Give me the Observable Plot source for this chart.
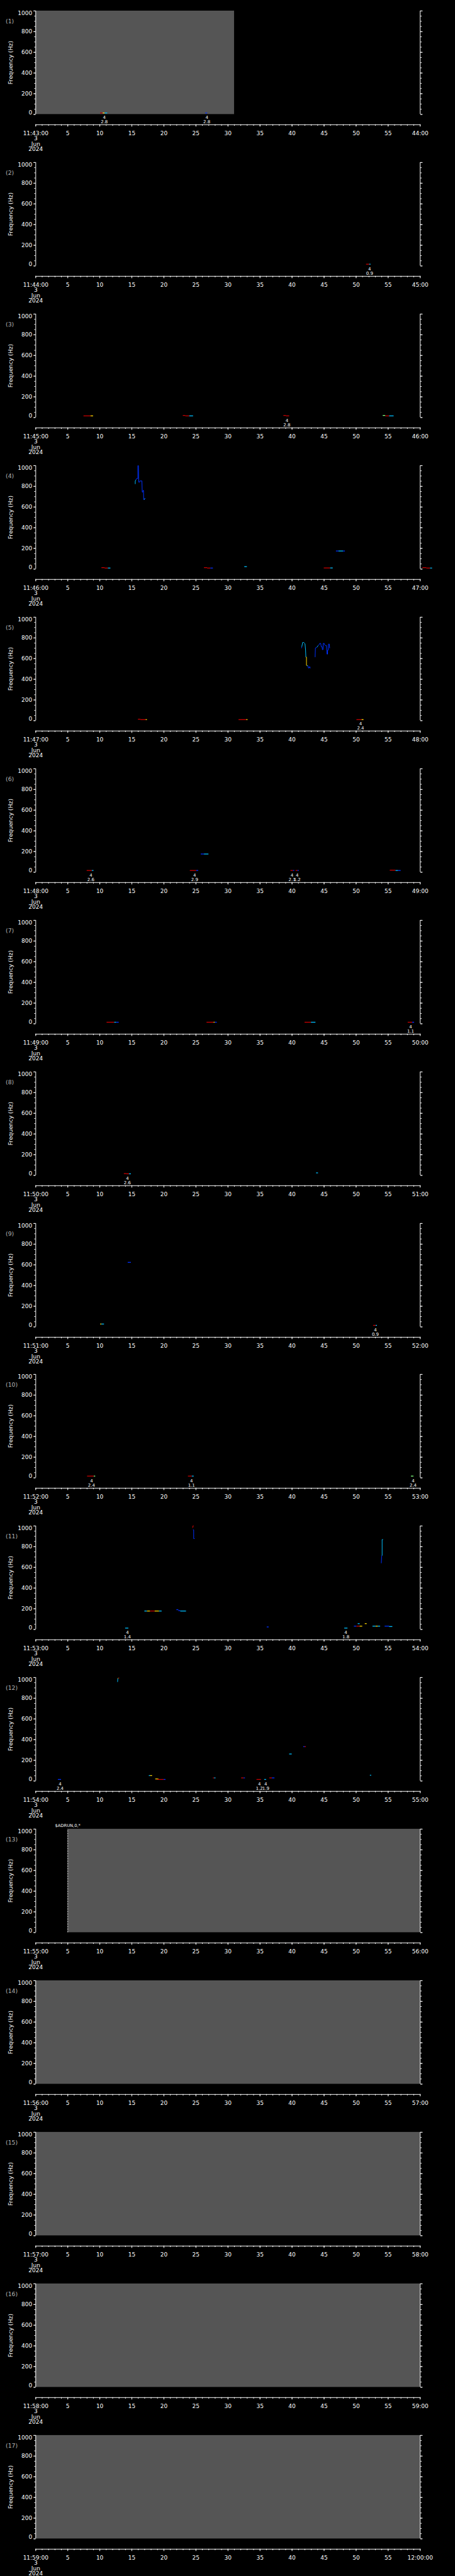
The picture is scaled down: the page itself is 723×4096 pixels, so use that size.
<!DOCTYPE html>
<html>
<head>
<meta charset="utf-8">
<script src="https://cdn.jsdelivr.net/npm/d3@7"></script>
<script src="https://cdn.jsdelivr.net/npm/@observablehq/plot@0.6"></script>
<style>
html, body { margin: 0; padding: 0; background: #000; }
#chart svg { display: block; }
</style>
</head>
<body>
<div id="chart"></div>
<script>
// ---------- data ----------
const panelStarts = ["11:43","11:44","11:45","11:46","11:47","11:48","11:49","11:50","11:51",
                     "11:52","11:53","11:54","11:55","11:56","11:57","11:58","11:59"];
const endLabels = ["44:00","45:00","46:00","47:00","48:00","49:00","50:00","51:00","52:00",
                   "53:00","54:00","55:00","56:00","57:00","58:00","59:00","12:00:00"];
const dateLines = ["3", "Jun", "2024"];
const yLabel = "Frequency (Hz)";
const xDomain = [0, 60];
const freqDomain = [0, 1000];
const timeTicks = [0, 5, 10, 15, 20, 25, 30, 35, 40, 45, 50, 55, 60];
const timeMinorTicks = d3.range(0, 61, 1);
const freqTicks = [0, 200, 400, 600, 800, 1000];
const freqMinorTicks = d3.range(0, 1001, 50);

// colour classes of the detections (jet-like)
const colorKeys = ["r", "y", "g", "c", "b"];
const colorHex = ["#c80000", "#ffd800", "#80ff80", "#00c0ff", "#0030ff"];

// no-data (grey) blocks: [panel, t0, t1]
const gaps = [[1, 0, 31], [13, 5, 60], [14, 0, 60], [15, 0, 60], [16, 0, 60], [17, 0, 60]];

// text markers: [panel, t, text]
const markers = [[13, 5, "$ADRUN,0,*"]];

// short detections: [panel, t0, t1, freq, colour]
const segments = [
 [1,10.1,10.5,14,"r"],[1,10.5,10.8,14,"y"],[1,10.8,11.2,14,"c"],[1,26.5,26.8,14,"b"],
 [2,51.6,52.1,17,"r"],[2,52.1,52.3,17,"c"],
 [3,7.5,8.6,16,"r"],[3,8.6,9.0,16,"y"],
 [3,23.0,23.4,20,"r"],[3,23.4,24.0,16,"r"],[3,24.0,24.6,16,"c"],
 [3,38.7,39.1,20,"r"],[3,39.1,39.6,16,"r"],
 [3,54.2,54.6,20,"g"],[3,54.6,55.2,16,"r"],[3,55.2,55.9,16,"c"],
 [4,10.3,10.8,14,"r"],[4,10.8,11.3,10,"r"],[4,11.3,11.7,10,"c"],
 [4,26.3,26.8,14,"r"],[4,26.8,27.3,10,"r"],[4,27.3,27.7,10,"b"],
 [4,32.6,33.0,24,"c"],
 [4,45.0,46.0,11,"r"],[4,46.0,46.4,11,"c"],
 [4,46.9,47.3,175,"b"],[4,47.3,48.0,175,"c"],[4,48.0,48.3,175,"b"],
 [4,60.4,61.0,14,"r"],[4,61.0,61.6,10,"r"],[4,61.6,61.9,10,"c"],
 [5,16.0,16.4,14,"r"],[5,16.4,17.2,10,"r"],[5,17.2,17.4,10,"y"],
 [5,31.7,32.9,10,"r"],[5,32.9,33.1,10,"y"],
 [5,50.1,50.9,10,"r"],[5,50.9,51.2,10,"y"],
 [6,8.0,8.8,17,"r"],[6,8.8,9.06,17,"c"],
 [6,24.1,25.1,17,"r"],[6,25.1,25.4,17,"b"],
 [6,25.8,26.3,176,"b"],[6,26.3,27.0,176,"c"],
 [6,39.8,40.2,17,"r"],[6,40.2,40.4,17,"b"],[6,40.6,40.9,17,"r"],[6,40.9,41.1,17,"b"],
 [6,55.3,56.2,20,"r"],[6,56.2,56.6,17,"c"],[6,56.6,57.0,17,"b"],
 [7,11.1,12.3,15,"r"],[7,12.3,12.6,15,"c"],[7,12.6,13.0,15,"b"],
 [7,26.7,27.8,15,"r"],[7,27.8,28.0,15,"y"],[7,28.0,28.3,15,"b"],
 [7,42.0,43.0,15,"r"],[7,43.0,43.7,15,"c"],
 [7,58.1,58.8,15,"r"],[7,58.8,59.1,15,"b"],
 [8,13.8,14.2,17,"r"],[8,14.2,14.6,15,"r"],[8,14.6,14.9,15,"c"],
 [8,43.8,44.1,24,"c"],
 [9,10.1,10.3,28,"y"],[9,10.3,10.7,28,"c"],
 [9,14.4,14.9,624,"b"],
 [9,52.7,53.1,15,"r"],[9,53.1,53.3,15,"c"],
 [10,8.06,9.1,17,"r"],[10,9.1,9.33,17,"g"],
 [10,23.8,24.4,17,"r"],[10,24.4,24.7,17,"c"],
 [10,58.6,59.0,17,"g"],
 [11,14.0,14.5,13,"c"],
 [11,17.0,17.4,178,"c"],[11,17.4,17.9,178,"y"],[11,17.9,18.6,178,"r"],[11,18.6,19.3,178,"y"],[11,19.3,19.7,178,"c"],
 [11,22.0,22.3,191,"b"],[11,22.3,22.6,182,"b"],[11,22.6,23.5,178,"c"],
 [11,36.1,36.4,24,"b"],
 [11,48.2,48.7,13,"c"],
 [11,49.7,50.1,32,"b"],[11,50.1,50.6,32,"r"],[11,50.6,51.0,32,"y"],
 [11,50.3,50.6,56,"c"],[11,51.4,51.7,56,"y"],
 [11,52.6,53.1,32,"c"],[11,53.1,53.4,32,"y"],[11,53.4,53.8,32,"c"],
 [11,54.5,55.2,32,"b"],[11,55.2,55.7,28,"c"],
 [12,3.5,4.0,15,"b"],
 [12,17.7,17.9,52,"c"],[12,17.9,18.2,52,"y"],
 [12,18.7,19.2,20,"y"],
 [12,19.0,20.0,15,"r"],[12,20.0,20.3,15,"b"],
 [12,27.7,27.9,30,"r"],[12,27.9,28.1,30,"c"],
 [12,32.1,32.5,30,"r"],[12,32.5,32.7,30,"b"],
 [12,34.5,35.2,15,"r"],
 [12,35.7,36.0,15,"c"],
 [12,36.5,36.9,30,"r"],[12,36.9,37.3,30,"b"],
 [12,39.6,40.0,261,"c"],
 [12,41.8,42.0,332,"b"],[12,42.0,42.2,332,"r"],
 [12,52.2,52.4,56,"c"]
];

// frequency-tracked contours: [panel, trace id, t, freq, colour]
const traces = [
 [4,"a",15.53,822,"b"],[4,"a",15.53,850,"c"],[4,"a",15.62,862,"c"],[4,"a",15.76,876,"b"],[4,"a",15.94,876,"b"],
 [4,"a",15.94,1000,"b"],[4,"a",16.03,1000,"b"],[4,"a",16.07,840,"b"],[4,"a",16.2,840,"b"],[4,"a",16.26,852,"b"],
 [4,"a",16.57,852,"b"],[4,"a",16.62,744,"b"],[4,"a",16.7,744,"b"],[4,"a",16.75,761,"b"],[4,"a",16.82,761,"b"],
 [4,"a",16.84,672,"b"],[4,"a",16.95,672,"b"],[4,"a",17.0,682,"c"],[4,"a",17.12,682,"b"],
 [5,"a",41.48,700,"b"],[5,"a",41.52,714,"b"],[5,"a",41.66,756,"c"],[5,"a",41.79,756,"c"],[5,"a",41.93,750,"c"],
 [5,"a",42.02,743,"c"],[5,"a",42.11,686,"c"],[5,"a",42.16,614,"c"],[5,"a",42.25,614,"y"],[5,"a",42.25,535,"y"],
 [5,"a",42.34,532,"y"],[5,"a",42.47,531,"c"],[5,"a",42.56,509,"b"],[5,"a",42.65,509,"b"],[5,"a",42.7,521,"b"],
 [5,"a",42.78,521,"b"],[5,"a",42.84,506,"b"],
 [5,"b",43.60,614,"b"],[5,"b",43.65,703,"b"],[5,"b",43.83,707,"b"],[5,"b",43.92,712,"b"],[5,"b",44.06,726,"c"],
 [5,"b",44.19,732,"b"],[5,"b",44.33,747,"b"],[5,"b",44.47,747,"b"],[5,"b",44.56,714,"b"],[5,"b",44.69,714,"b"],
 [5,"b",44.74,686,"b"],[5,"b",44.83,686,"b"],[5,"b",44.87,747,"b"],[5,"b",45.01,747,"b"],[5,"b",45.10,732,"b"],
 [5,"b",45.23,726,"b"],[5,"b",45.37,726,"b"],[5,"b",45.46,643,"b"],[5,"b",45.55,643,"b"],[5,"b",45.55,681,"b"],
 [5,"b",45.64,681,"b"],[5,"b",45.69,740,"b"],[5,"b",45.82,740,"b"],[5,"b",45.87,700,"b"],
 [11,"a",24.50,981,"r"],[11,"a",24.50,1000,"r"],[11,"a",24.68,1000,"r"],
 [11,"b",24.54,963,"b"],[11,"b",24.65,963,"b"],[11,"b",24.65,878,"b"],[11,"b",24.80,878,"b"],
 [11,"c",53.93,640,"b"],[11,"c",53.98,700,"b"],[11,"c",54.02,715,"b"],[11,"c",54.06,715,"c"],
 [11,"c",54.06,869,"c"],[11,"c",54.20,869,"c"],
 [12,"a",12.77,957,"c"],[12,"a",12.81,991,"c"],[12,"a",12.90,996,"y"],[12,"a",13.04,996,"r"]
];

// detection annotations: [panel, t, upper, lower]
const notes = [
 [1,10.7,"4","2.8"],[1,26.7,"4","2.8"],
 [2,52.1,"4","0.9"],
 [3,39.2,"4","2.8"],
 [5,50.7,"4","2.4"],
 [6,8.6,"4","2.6"],[6,24.8,"4","2.9"],[6,40.0,"4","2.1"],[6,40.8,"4","1.2"],
 [7,58.5,"4","1.1"],
 [8,14.3,"4","2.6"],
 [9,53.0,"4","0.9"],
 [10,8.7,"4","2.4"],[10,24.3,"4","1.1"],[10,58.9,"4","2.4"],
 [11,14.3,"4","1.4"],[11,48.4,"4","1.8"],
 [12,3.8,"4","2.4"],[12,34.9,"4","1.2"],[12,35.9,"4","1.9"]
];

// ---------- layout (px) ----------
const W = 723, H = 4096 / 17;
const mTop = 16.9, mLeft = 56.3, mRight = 55.8, f0y = 181.4, tAxisY = 197.8;
const FONT = "DejaVu Sans, sans-serif";

function panel(p) {
  const idx = p - 1;
  const segs = segments.filter(d => d[0] === p);
  const tr = traces.filter(d => d[0] === p);
  const links = [];
  for (let k = 1; k < tr.length; k++) if (tr[k][1] === tr[k - 1][1]) links.push([tr[k - 1], tr[k]]);
  const pg = gaps.filter(d => d[0] === p);
  const pm = markers.filter(d => d[0] === p);
  const pn = notes.filter(d => d[0] === p);
  const timeLabel = t => t === xDomain[0] ? [panelStarts[idx] + ":00", ...dateLines].join("\n")
                       : t === xDomain[1] ? endLabels[idx] : String(t);
  const white = "#ffffff";
  return Plot.plot({
    width: W, height: H,
    marginTop: mTop, marginLeft: mLeft, marginRight: mRight, marginBottom: H - tAxisY,
    x: {domain: xDomain},
    y: {domain: freqDomain, range: [f0y, mTop]},
    color: {type: "ordinal", domain: colorKeys, range: colorHex},
    style: {background: "#000", color: white, fontFamily: FONT, fontSize: "9px", overflow: "visible"},
    marks: [
      Plot.rect(pg, {x1: d => d[1], x2: d => d[2], y1: freqDomain[0], y2: freqDomain[1], fill: "#555555"}),
      Plot.ruleX(pm, {x: d => d[1], y1: freqDomain[0], y2: freqDomain[1], stroke: white, strokeWidth: 0.8, strokeDasharray: "2,2"}),
      Plot.ruleY(segs, {y: d => d[3], x1: d => d[1], x2: d => d[2], stroke: d => d[4], strokeWidth: 1.3}),
      Plot.link(links, {x1: d => d[0][2], y1: d => d[0][3], x2: d => d[1][2], y2: d => d[1][3], stroke: d => d[1][4], strokeWidth: 1}),
      // frequency axes (left and right)
      Plot.ruleX(xDomain, {y1: freqDomain[0], y2: freqDomain[1], stroke: white}),
      Plot.axisY({anchor: "left", ticks: freqTicks, tickSize: 3.3, fill: "none", label: null}),
      Plot.axisY({anchor: "left", ticks: freqMinorTicks, tickSize: 1.9, fill: "none", label: null}),
      Plot.axisY({anchor: "right", ticks: freqTicks, tickSize: 3.3, fill: "none", label: null}),
      Plot.axisY({anchor: "right", ticks: freqMinorTicks, tickSize: 1.9, fill: "none", label: null}),
      Plot.text(freqTicks.filter(v => v === freqDomain[1]), {y: d => d, text: d => String(d), frameAnchor: "left", textAnchor: "end", dx: -5.6, lineAnchor: "top", fontSize: 9, fill: white}),
      Plot.text(freqTicks.filter(v => v === freqDomain[0]), {y: d => d, text: d => String(d), frameAnchor: "left", textAnchor: "end", dx: -5.6, lineAnchor: "bottom", fontSize: 9, fill: white}),
      Plot.text(freqTicks.filter(v => v !== freqDomain[0] && v !== freqDomain[1]), {y: d => d, text: d => String(d), frameAnchor: "left", textAnchor: "end", dx: -5.6, lineAnchor: "middle", fontSize: 9, fill: white}),
      Plot.text([yLabel], {y: () => (freqDomain[0] + freqDomain[1]) / 2, text: d => d, frameAnchor: "left", dx: 16.2 - mLeft, rotate: -90, textAnchor: "middle", lineAnchor: "middle", fontSize: 9.2, fill: white}),
      Plot.text([`(${p})`], {text: d => d, frameAnchor: "top-left", dx: 8.5 - mLeft, dy: 33.5 - mTop, textAnchor: "start", lineAnchor: "middle", fontSize: 9.3, fill: "#b4b4b4"}),
      // time axis
      Plot.frame({anchor: "bottom", stroke: white}),
      Plot.axisX({anchor: "bottom", ticks: timeTicks, tickSize: 3.5, fill: "none", label: null}),
      Plot.axisX({anchor: "bottom", ticks: timeMinorTicks, tickSize: 2.1, fill: "none", label: null}),
      Plot.text(timeTicks, {x: d => d, text: timeLabel, frameAnchor: "bottom", lineAnchor: "top", dy: 10.2, lineHeight: 0.944, fontSize: 9, fill: white}),
      // annotations
      Plot.text(pn, {x: d => d[1], y: freqDomain[0], text: d => d[2] + "\n" + d[3], lineAnchor: "top", dy: 1.7, lineHeight: 1.0, fontSize: 7, fill: white}),
      Plot.text(pm, {x: d => d[1], text: d => d[2], frameAnchor: "top", dy: 11.2 - mTop, lineAnchor: "middle", fontSize: 6.7, fill: white})
    ]
  });
}

const chart = document.getElementById("chart");
for (let p = 1; p <= panelStarts.length; p++) chart.appendChild(panel(p));
</script>
</body>
</html>
